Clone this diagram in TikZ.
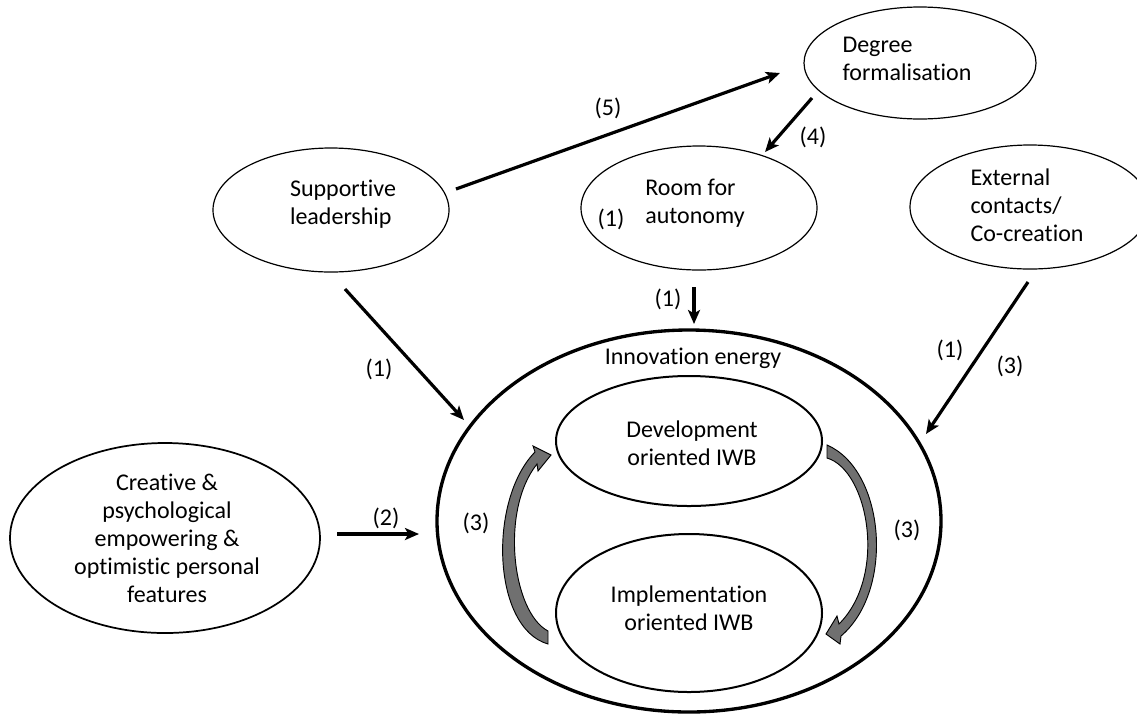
\documentclass[tikz,border=0pt]{standalone}
\usepackage{fontspec}
\setmainfont{Carlito}[RawFeature=-liga]
\usetikzlibrary{arrows.meta,shapes.geometric}
\begin{document}
\begin{tikzpicture}[x=0.75pt,y=-0.75pt,
  every node/.style={font=\fontsize{18}{21}\selectfont, inner sep=0pt},
  oval/.style={ellipse, draw, line width=0.9pt, inner sep=0pt},
  inner/.style={ellipse, draw, line width=1.5pt, inner sep=0pt},
  link/.style={line width=2.4pt, -{Stealth[length=10.5pt,width=9pt,inset=2.5pt]}},
  txt/.style={align=left},
  ctxt/.style={align=center},
  curly/.style={draw=black, line width=0.7pt, fill={rgb,255:red,112;green,112;blue,112}}
]
\useasboundingbox (0,0) rectangle (1137,715);

% ellipses
\node[oval, minimum width=174pt, minimum height=84pt] (deg) at (920,63) {};
\node[oval, minimum width=177pt, minimum height=93pt] (sup) at (331,210) {};
\node[oval, minimum width=177pt, minimum height=93pt] (room) at (699,208) {};
\node[oval, minimum width=180pt, minimum height=93pt] (ext) at (1030,207) {};
\node[oval, line width=1.3pt, minimum width=232.5pt, minimum height=142.5pt] (cre) at (165,538) {};
\node[ellipse, draw, line width=2.5pt, minimum width=378pt, minimum height=286.5pt] (ie) at (689,521) {};
\node[inner, minimum width=199.5pt, minimum height=97.5pt] (dev) at (689,441) {};
\node[inner, minimum width=199.5pt, minimum height=118.5pt] (imp) at (689,613) {};

% texts
\node[txt] (degT) at (907,59) {Degree\\formalisation};
\node[txt] (supT) at (343,204) {Supportive\\leadership};
\node[txt] (roomT) at (695,203) {Room for\\autonomy};
\node (roomL) at (611,219) {(1)};
\node[txt] (extT) at (1027,205) {External\\contacts/\\Co-creation};
\node[ctxt] (creT) at (167,538) {Creative \&\\psychological\\empowering \&\\optimistic personal\\features};
\node (ieT) at (693,358) {Innovation energy};
\node[ctxt] (devT) at (692,443) {Development\\oriented IWB};
\node[ctxt] (impT) at (689,608) {Implementation\\oriented IWB};

% arrow end points
\coordinate (a5s) at (456,189);  \coordinate (a5e) at (780,73);
\coordinate (a4s) at (812,98);   \coordinate (a4e) at (765,152);
\coordinate (a1rs) at (694,287); \coordinate (a1re) at (694,324);
\coordinate (a1ss) at (345,289); \coordinate (a1se) at (464,420);
\coordinate (axs) at (1028,282); \coordinate (axe) at (926,434);
\coordinate (a2s) at (337,534);  \coordinate (a2e) at (419,534);

\draw[link] (a5s) -- (a5e);
\draw[link] (a4s) -- (a4e);
\draw[link] (a1rs) -- (a1re);
\draw[link] (a1ss) -- (a1se);
\draw[link] (axs) -- (axe);
\draw[link] (a2s) -- (a2e);

% labels
\node (l5) at (608,108) {(5)};
\node (l4) at (813,137) {(4)};
\node (l1r) at (668,299) {(1)};
\node (l1s) at (379,369) {(1)};
\node (l1x) at (950,350) {(1)};
\node (l3x) at (1010,366) {(3)};
\node (l2) at (386,518) {(2)};
\node (l3l) at (476,523) {(3)};
\node (l3r) at (907,530) {(3)};

% curved block arrows
\path[curly] (548,644) -- (548,631) .. controls (512,612) and (500,510) .. (537,464)
  -- (538,471) -- (551,455) -- (533,446) -- (535,452)
  .. controls (488,500) and (492,628) .. (548,644) -- cycle;
\path[curly] (827,445) -- (827,458) .. controls (868,470) and (888,575) .. (839,624)
  -- (837,616) -- (826,634) -- (840,644) -- (841,636)
  .. controls (895,590) and (885,470) .. (827,445) -- cycle;
\end{tikzpicture}
\end{document}
